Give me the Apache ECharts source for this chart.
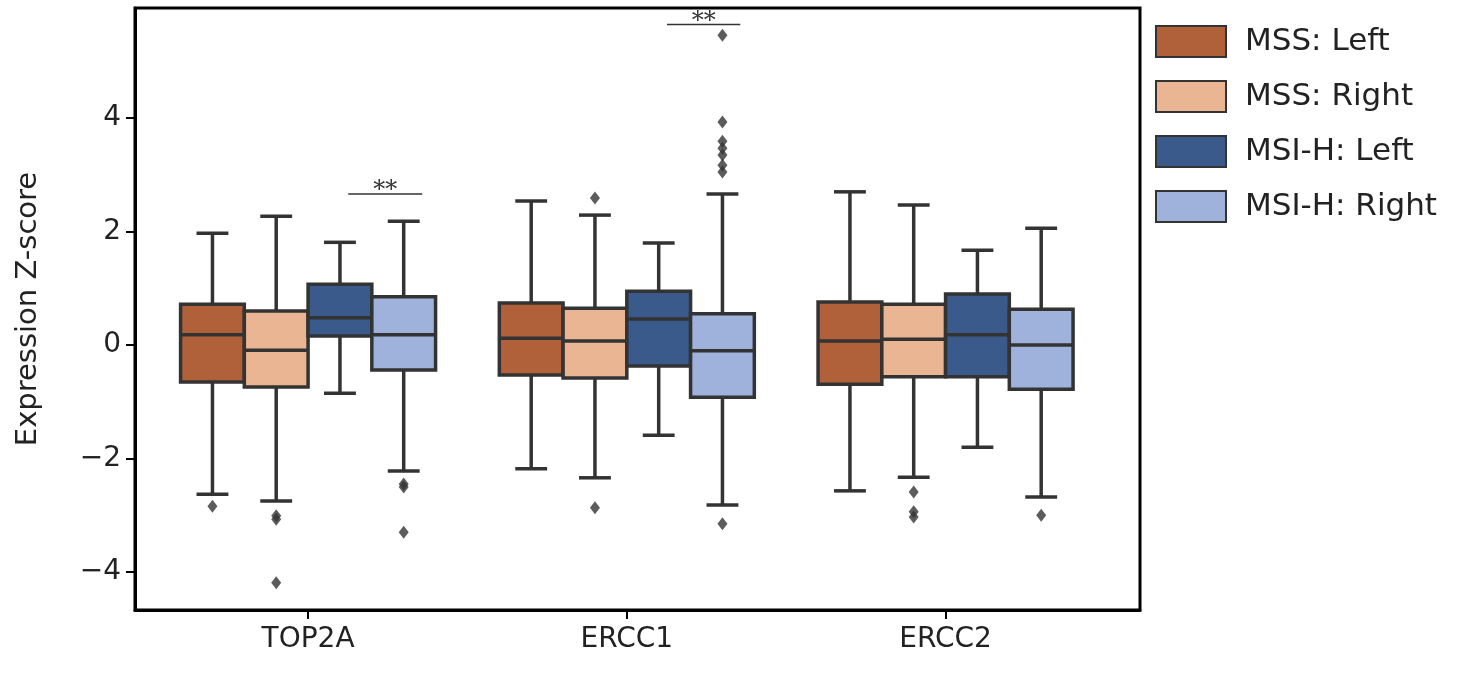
<!DOCTYPE html>
<html lang="en">
<head>
    <meta charset="UTF-8">
    <title>Expression Z-score</title>
    <style>body{margin:0;background:#fff}</style>
</head>
<body>
    <div id="main" style="width: 1471px;height:675px;"></div>
</body>
<script src="https://cdn.jsdelivr.net/npm/echarts@6/dist/echarts.min.js"></script>
<script type="text/javascript">
    // genes on x axis
    var genes = ['TOP2A', 'ERCC1', 'ERCC2'];
    var groups = ['MSS: Left', 'MSS: Right', 'MSI-H: Left', 'MSI-H: Right'];
    var colors = ['#b0613a', '#e9b593', '#3a5a8c', '#9fb2dc'];
    var offsets = [-0.3, -0.1, 0.1, 0.3];
    // [low whisker, Q1, median, Q3, high whisker], per gene
    var mssLeft = [[-2.63, -0.65, 0.18, 0.72, 1.97], [-2.18, -0.53, 0.12, 0.74, 2.54], [-2.57, -0.69, 0.07, 0.76, 2.7]];
    var mssRight = [[-2.75, -0.74, -0.09, 0.6, 2.27], [-2.34, -0.58, 0.07, 0.65, 2.29], [-2.33, -0.56, 0.1, 0.72, 2.47]];
    var msiLeft = [[-0.85, 0.16, 0.48, 1.07, 1.81], [-1.59, -0.37, 0.46, 0.95, 1.8], [-1.8, -0.56, 0.18, 0.9, 1.67]];
    var msiRight = [[-2.22, -0.44, 0.18, 0.85, 2.18], [-2.82, -0.92, -0.1, 0.55, 2.66], [-2.68, -0.78, 0.0, 0.63, 2.06]];
    // outliers: [gene index, group index, value]
    var outliers = [
        [0, 0, -2.84], [0, 1, -3.01], [0, 1, -3.07], [0, 1, -4.19],
        [0, 3, -2.45], [0, 3, -2.5], [0, 3, -3.3],
        [1, 1, 2.59], [1, 1, -2.87],
        [1, 3, -3.15], [1, 3, 3.05], [1, 3, 3.17], [1, 3, 3.35], [1, 3, 3.47], [1, 3, 3.59], [1, 3, 3.93], [1, 3, 5.46],
        [2, 1, -2.59], [2, 1, -2.94], [2, 1, -3.03], [2, 3, -3.0]
    ];
    // significance bars: [x start, x end, y]
    var sigBars = [[0.126, 0.358, 2.66], [1.126, 1.356, 5.65]];
    var yTicks = [-4, -2, 0, 2, 4];

    var boxData = [mssLeft, mssRight, msiLeft, msiRight];

    function renderBox(params, api) {
        var x = api.value(0);
        var lo = api.coord([x, api.value(1)]);
        var q1 = api.coord([x, api.value(2)]);
        var md = api.coord([x, api.value(3)]);
        var q3 = api.coord([x, api.value(4)]);
        var hi = api.coord([x, api.value(5)]);
        var w = api.size([0.2, 0])[0];
        var cx = lo[0];
        var line = {stroke: '#333', lineWidth: 3.5};
        return {
            type: 'group',
            children: [
                {type: 'line', shape: {x1: cx, y1: hi[1], x2: cx, y2: q3[1]}, style: line},
                {type: 'line', shape: {x1: cx, y1: q1[1], x2: cx, y2: lo[1]}, style: line},
                {type: 'line', shape: {x1: cx - w / 4, y1: hi[1], x2: cx + w / 4, y2: hi[1]}, style: line},
                {type: 'line', shape: {x1: cx - w / 4, y1: lo[1], x2: cx + w / 4, y2: lo[1]}, style: line},
                {type: 'rect', shape: {x: cx - w / 2, y: q3[1], width: w, height: q1[1] - q3[1]},
                    style: {fill: api.visual('color'), stroke: '#333', lineWidth: 3.5}},
                {type: 'line', shape: {x1: cx - w / 2, y1: md[1], x2: cx + w / 2, y2: md[1]}, style: line}
            ]
        };
    }

    var series = groups.map(function (g, gi) {
        return {
            name: g,
            type: 'custom',
            renderItem: renderBox,
            itemStyle: {color: colors[gi], borderColor: '#333', borderWidth: 2},
            encode: {x: 0, y: [1, 2, 3, 4, 5]},
            data: boxData[gi].map(function (b, i) {
                return [i + offsets[gi]].concat(b);
            }),
            z: 2
        };
    });

    series.push({
        type: 'scatter',
        symbol: 'diamond',
        symbolSize: [10, 13],
        itemStyle: {color: '#333'},
        data: outliers.map(function (o) { return [o[0] + offsets[o[1]], o[2]]; }),
        z: 3
    });

    series.push({
        type: 'custom',
        renderItem: function (params, api) {
            var a = api.coord([api.value(0), api.value(2)]);
            var b = api.coord([api.value(1), api.value(2)]);
            return {
                type: 'group',
                children: [
                    {type: 'line', shape: {x1: a[0], y1: a[1], x2: b[0], y2: b[1]}, style: {stroke: '#333', lineWidth: 1.5}},
                    {type: 'text', x: (a[0] + b[0]) / 2, y: a[1] + 9,
                        style: {text: '**', fill: '#333', font: '24px DejaVu Serif', align: 'center', verticalAlign: 'bottom'}}
                ]
            };
        },
        data: sigBars,
        z: 4
    });

    var myChart = echarts.init(document.getElementById('main'));
    var option = {
        animation: false,
        grid: {left: 135, right: 331, top: 8, bottom: 65, show: true, borderColor: '#000', borderWidth: 3},
        legend: {
            data: groups,
            orient: 'vertical',
            left: 1150, top: 20,
            itemWidth: 70, itemHeight: 31, itemGap: 22,
            icon: 'rect',
            textStyle: {fontSize: 31, fontFamily: 'DejaVu Sans', color: '#222', padding: [0, 0, 0, 14]}
        },
        xAxis: {
            type: 'value', min: -0.543, max: 2.61,
            splitLine: {show: false},
            axisLine: {onZero: false, lineStyle: {color: '#000', width: 3}},
            axisTick: {customValues: [0, 1, 2], length: 9, lineStyle: {color: '#000', width: 2}},
            axisLabel: {customValues: [0, 1, 2], formatter: function (v) { return genes[Math.round(v)]; },
                fontSize: 28, fontFamily: 'DejaVu Sans', color: '#222', margin: 16}
        },
        yAxis: {
            type: 'value', min: -4.67, max: 5.94,
            name: 'Expression Z-score', nameLocation: 'middle', nameGap: 92,
            nameTextStyle: {fontSize: 29, fontFamily: 'DejaVu Sans', color: '#222'},
            splitLine: {show: false},
            axisLine: {onZero: false, lineStyle: {color: '#000', width: 3}},
            axisTick: {customValues: yTicks, length: 9, lineStyle: {color: '#000', width: 2}},
            axisLabel: {customValues: yTicks, formatter: function (v) { return v < 0 ? '\u2212' + (-v) : String(v); },
                fontSize: 28, fontFamily: 'DejaVu Sans', color: '#222', margin: 14}
        },
        series: series
    };
    myChart.setOption(option);
</script>
</html>
